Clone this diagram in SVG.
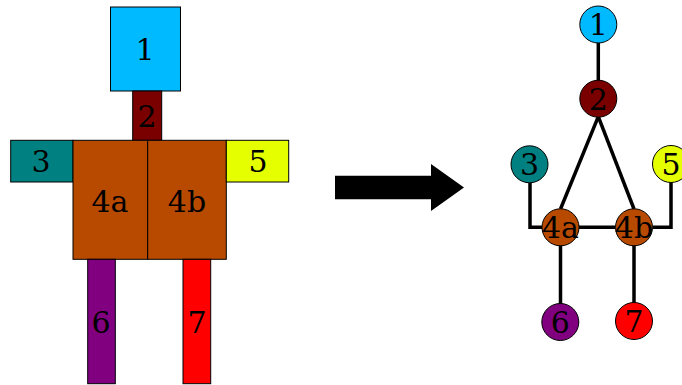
<svg xmlns="http://www.w3.org/2000/svg" width="682" height="385" viewBox="0 0 682 385">
<style>
.b{stroke:#000;stroke-width:1}
.t{font-family:"DejaVu Serif",serif;font-size:30px;text-anchor:middle;fill:#000}
.e{stroke:#000;stroke-width:3.5;fill:none;stroke-linejoin:miter}
.c{stroke:#000;stroke-width:1}
</style>
<rect width="682" height="385" fill="#fff"/>
<g id="box1"><rect class="b" x="110.5" y="7" width="70" height="84" fill="#00BAFF"/><text class="t" x="145" y="60">1</text></g>
<g id="box2"><rect class="b" x="132.7" y="91" width="29" height="49.3" fill="#7A0000"/><text class="t" x="147" y="126.7">2</text></g>
<g id="box3"><rect class="b" x="10.7" y="140.3" width="62.3" height="41.7" fill="#008080"/><text class="t" x="41" y="172">3</text></g>
<g id="box4a"><rect class="b" x="73" y="140.3" width="74.7" height="119" fill="#B84A00"/><text class="t" x="110" y="211.7">4a</text></g>
<g id="box4b"><rect class="b" x="147.7" y="140.3" width="78.6" height="119" fill="#B84A00"/><text class="t" x="187" y="211.7">4b</text></g>
<g id="box5"><rect class="b" x="226.3" y="140.3" width="62.4" height="41.7" fill="#E6FF00"/><text class="t" x="258" y="172">5</text></g>
<g id="box6"><rect class="b" x="87.7" y="259.3" width="27.6" height="124.4" fill="#800080"/><text class="t" x="101" y="333.3">6</text></g>
<g id="box7"><rect class="b" x="183" y="259.3" width="27.7" height="124.4" fill="#FF0000"/><text class="t" x="197" y="332.7">7</text></g>
<g id="arrow"><polygon points="335,175.7 431,175.7 431,164 464,187.5 431,211 431,199.3 335,199.3" fill="#000"/></g>
<g id="connectors">
<line class="e" x1="598.3" y1="42" x2="598.3" y2="81"/>
<line class="e" x1="598.3" y1="116.7" x2="560.5" y2="209"/>
<line class="e" x1="598.3" y1="116.7" x2="634" y2="209"/>
<polyline class="e" points="530,182.5 530,227.3 542,227.3"/>
<polyline class="e" points="671,182.5 671,227.3 653,227.3"/>
<line class="e" x1="579" y1="227.3" x2="615" y2="227.3"/>
<line class="e" x1="560.5" y1="245" x2="560.5" y2="304"/>
<line class="e" x1="634" y1="245" x2="634" y2="303"/>
</g>
<g id="n1"><circle class="c" cx="598.3" cy="24.5" r="18.5" fill="#00BAFF"/><text class="t" x="598.3" y="35">1</text></g>
<g id="n2"><circle class="c" cx="598.3" cy="98.7" r="18.5" fill="#7A0000"/><text class="t" x="598.3" y="109.5">2</text></g>
<g id="n3"><circle class="c" cx="529.5" cy="164.3" r="18.5" fill="#008080"/><text class="t" x="529.5" y="175">3</text></g>
<g id="n5"><circle class="c" cx="671" cy="164" r="18.5" fill="#E6FF00"/><text class="t" x="671" y="175">5</text></g>
<g id="n4a"><circle class="c" cx="560.5" cy="227.3" r="18.5" fill="#B84A00"/><text class="t" x="560.5" y="238.3">4a</text></g>
<g id="n4b"><circle class="c" cx="634" cy="227.3" r="18.5" fill="#B84A00"/><text class="t" x="634" y="238.3">4b</text></g>
<g id="n6"><circle class="c" cx="560.3" cy="322" r="18.5" fill="#800080"/><text class="t" x="560.3" y="333">6</text></g>
<g id="n7"><circle class="c" cx="634" cy="321" r="18.5" fill="#FF0000"/><text class="t" x="634" y="332">7</text></g>
</svg>
